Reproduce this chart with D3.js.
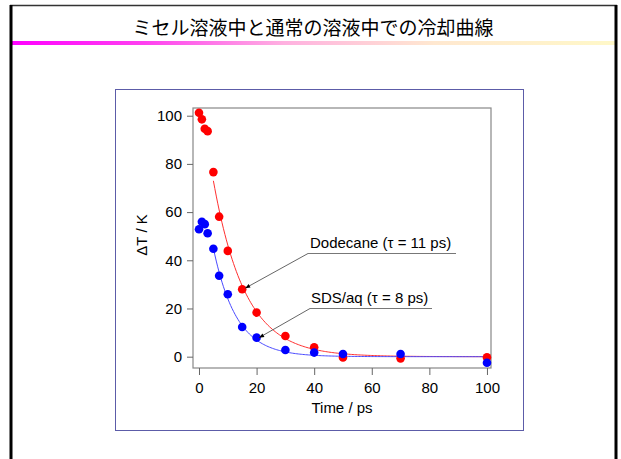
<!DOCTYPE html>
<html>
<head>
<meta charset="utf-8">
<script src="https://cdn.jsdelivr.net/npm/d3@7"></script>
<style>
  html, body { margin: 0; padding: 0; background: #fff; }
  svg { display: block; }
</style>
</head>
<body>
<svg id="chart" width="621" height="459"></svg>
<script>
// Cooling curves: temperature rise ΔT vs. delay time
const times = [0, 1, 2, 3, 5, 7, 10, 15, 20, 30, 40, 50, 70, 100];
const dodecane = [101.2, 98.5, 94.6, 93.6, 76.6, 58.1, 43.9, 28.0, 18.3, 8.6, 3.9, -0.3, -0.7, -0.3];
const sdsAq = [52.9, 56.0, 55.0, 51.2, 44.8, 33.6, 25.9, 12.3, 7.9, 2.8, 1.7, 1.1, 1.1, -2.5];

// Single-exponential fits, drawn from the fit onset to the end of the scan
const fitTau = [11, 8];          // ps, as labelled
const fitAmp = [115, 84];        // K
const fitStart = 5;              // ps
const fitEnd = 100;              // ps

const xTicks = [0, 20, 40, 60, 80, 100];
const yTicks = [0, 20, 40, 60, 80, 100];

const titleText = "ミセル溶液中と通常の溶液中での冷却曲線";
const labels = ["Dodecane (τ = 11 ps)", "SDS/aq (τ = 8 ps)"];

const svg = d3.select("#chart");
const W = 621, H = 459;

// ---- slide frame, title and gradient rule ----
const defs = svg.append("defs");
const grad = defs.append("linearGradient").attr("id", "rule")
  .attr("x1", "0%").attr("x2", "100%").attr("y1", "0%").attr("y2", "0%");
grad.append("stop").attr("offset", "0%").attr("stop-color", "#ff00ff");
grad.append("stop").attr("offset", "22%").attr("stop-color", "#ff40f0");
grad.append("stop").attr("offset", "45%").attr("stop-color", "#ffb0e0");
grad.append("stop").attr("offset", "70%").attr("stop-color", "#ffe8d0");
grad.append("stop").attr("offset", "100%").attr("stop-color", "#fff8c8");

svg.append("rect").attr("x", 12).attr("y", 41).attr("width", 603).attr("height", 4)
  .attr("fill", "url(#rule)");

svg.append("line").attr("x1", 10).attr("x2", 617).attr("y1", 5.5).attr("y2", 5.5)
  .attr("stroke", "#333").attr("stroke-width", 1.5);
svg.append("line").attr("x1", 11).attr("x2", 11).attr("y1", 5).attr("y2", H)
  .attr("stroke", "#000").attr("stroke-width", 3);
svg.append("line").attr("x1", 616).attr("x2", 616).attr("y1", 5).attr("y2", H)
  .attr("stroke", "#000").attr("stroke-width", 3);

svg.append("text").attr("x", 313).attr("y", 35)
  .attr("text-anchor", "middle")
  .attr("font-family", "'Noto Sans CJK JP', 'Noto Sans CJK SC', sans-serif")
  .attr("font-size", 19).attr("fill", "#000")
  .text(titleText);

// ---- chart panel ----
svg.append("rect").attr("x", 115.5).attr("y", 89.5).attr("width", 408).attr("height", 341)
  .attr("fill", "#fff").attr("stroke", "#5c5ca8").attr("stroke-width", 1);

const plot = { left: 193, right: 491, top: 108, bottom: 368 };
const x = d3.scaleLinear().domain([-2.08, 101.4]).range([plot.left, plot.right]);
const y = d3.scaleLinear().domain([-4.7, 103.2]).range([plot.bottom, plot.top]);

const font = "Arial, 'Liberation Sans', sans-serif";

// plot box
svg.append("rect").attr("x", plot.left).attr("y", plot.top)
  .attr("width", plot.right - plot.left).attr("height", plot.bottom - plot.top)
  .attr("fill", "none").attr("stroke", "#888").attr("stroke-width", 1.2);

// axes
const xAxis = svg.append("g").attr("transform", `translate(0,${plot.bottom})`)
  .call(d3.axisBottom(x).tickValues(xTicks).tickSize(7).tickPadding(7));
const yAxis = svg.append("g").attr("transform", `translate(${plot.left},0)`)
  .call(d3.axisLeft(y).tickValues(yTicks).tickSize(6).tickPadding(5));
[xAxis, yAxis].forEach(g => {
  g.select(".domain").remove();
  g.selectAll(".tick line").attr("stroke", "#666");
  g.selectAll(".tick text").attr("font-family", font).attr("font-size", 15).attr("fill", "#000");
});

svg.append("text").attr("x", 342).attr("y", 413).attr("text-anchor", "middle")
  .attr("font-family", font).attr("font-size", 15).text("Time / ps");
svg.append("text").attr("transform", "translate(147,235) rotate(-90)")
  .attr("text-anchor", "middle")
  .attr("font-family", font).attr("font-size", 15).text("ΔT / K");

// ---- fit curves ----
const fitColors = ["#ff3030", "#4a4aff"];
const fitTimes = d3.range(fitStart, fitEnd + 0.01, 0.5);
const line = d3.line().x(d => x(d[0])).y(d => y(d[1]));
fitTau.forEach((tau, i) => {
  const pts = fitTimes.map(t => [t, fitAmp[i] * Math.exp(-t / tau)]);
  svg.append("path").attr("d", line(pts))
    .attr("fill", "none").attr("stroke", fitColors[i]).attr("stroke-width", 1);
});

// ---- data points ----
const seriesList = [
  { values: dodecane, color: "#ff0000" },
  { values: sdsAq, color: "#0000ff" }
];
seriesList.forEach(s => {
  svg.append("g").selectAll("circle")
    .data(times.map((t, i) => [t, s.values[i]]))
    .join("circle")
    .attr("cx", d => x(d[0])).attr("cy", d => y(d[1]))
    .attr("r", 4.3).attr("fill", s.color);
});

// ---- annotations ----
const notes = [
  { text: labels[0], tx: 310, ty: 248, ux1: 308, ux2: 456, at: [times[7], dodecane[7]], dx: 3, dy: -1 },
  { text: labels[1], tx: 311, ty: 303, ux1: 310, ux2: 432, at: [times[8], sdsAq[8]], dx: 2.5, dy: 0 }
];
notes.forEach(n => {
  svg.append("text").attr("x", n.tx).attr("y", n.ty)
    .attr("font-family", font).attr("font-size", 15).text(n.text);
  const uy = n.ty + 5.5;
  svg.append("line").attr("x1", n.ux1).attr("x2", n.ux2).attr("y1", uy).attr("y2", uy)
    .attr("stroke", "#777").attr("stroke-width", 1.2);
  const tipX = x(n.at[0]) + n.dx, tipY = y(n.at[1]) + n.dy;
  svg.append("line").attr("x1", n.ux1).attr("y1", uy).attr("x2", tipX).attr("y2", tipY)
    .attr("stroke", "#555").attr("stroke-width", 0.9);
  // arrowhead
  const ang = Math.atan2(uy - tipY, n.ux1 - tipX);
  const L = 5, Wd = 2;
  const bx = tipX + L * Math.cos(ang), by = tipY + L * Math.sin(ang);
  const px = -Math.sin(ang) * Wd, py = Math.cos(ang) * Wd;
  svg.append("path")
    .attr("d", `M${tipX},${tipY}L${bx + px},${by + py}L${bx - px},${by - py}Z`)
    .attr("fill", "#000");
});
</script>
</body>
</html>
